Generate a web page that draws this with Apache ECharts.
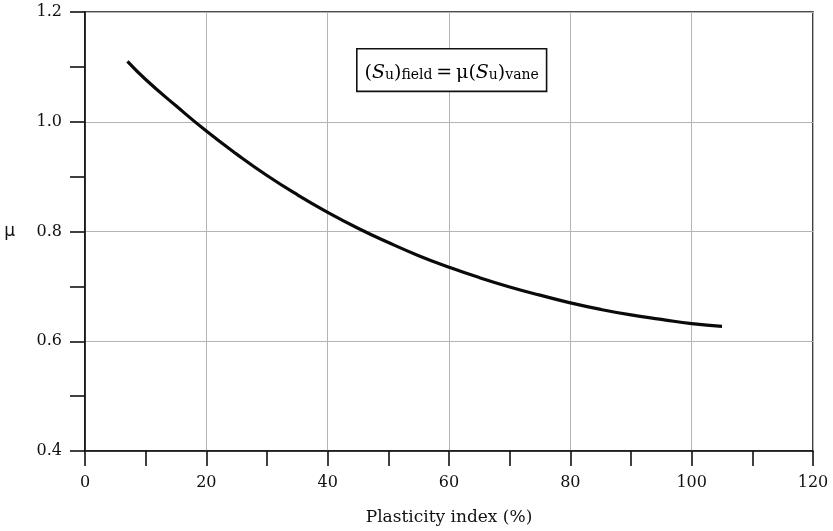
<!DOCTYPE html>
<html>
<head>
<meta charset="utf-8">
<script src="https://cdn.jsdelivr.net/npm/echarts@6/dist/echarts.min.js"></script>
<style>
  html, body { margin: 0; padding: 0; background: #fff; }
  #chart { width: 833px; height: 531px; }
</style>
</head>
<body>
<div id="chart"></div>
<script>
// Bjerrum-type correction factor for field vane shear strength
const plasticityIndex = [7, 10, 15, 20, 25, 30, 35, 40, 45, 50, 55, 60, 65, 70, 75, 80, 85, 90, 95, 100, 105];
const muValues = [1.110, 1.077, 1.029, 0.983, 0.941, 0.902, 0.867, 0.835, 0.806, 0.780, 0.756, 0.735, 0.716, 0.699, 0.684, 0.670, 0.658, 0.648, 0.640, 0.632, 0.627];

const xTicks = { min: 0, max: 120, interval: 20 };
const yTicks = { min: 0.4, max: 1.2, interval: 0.2 };

const xName = 'Plasticity index (%)';
const yName = 'μ';

const serif = '"DejaVu Serif", "Liberation Serif", serif';
const ink = '#111';

const chart = echarts.init(document.getElementById('chart'), null, { renderer: 'canvas' });

const axisCommon = {
  axisLine: { show: true, onZero: false, lineStyle: { color: ink, width: 1.6 } },
  axisTick: { show: true, inside: false, length: 15, lineStyle: { color: ink, width: 1.6 } },
  minorTick: { show: true, splitNumber: 2, length: 15, lineStyle: { color: ink, width: 1.6 } },
  splitLine: { show: true, lineStyle: { color: '#b4b4b4', width: 1 } },
  axisLabel: { color: ink, fontFamily: serif, fontSize: 16 }
};

chart.setOption({
  animation: false,
  backgroundColor: '#fff',
  grid: {
    left: 85, right: 20, top: 12, bottom: 80,
    show: true, borderColor: ink, borderWidth: 1.6, backgroundColor: 'transparent'
  },
  xAxis: Object.assign({}, axisCommon, {
    type: 'value',
    min: xTicks.min, max: xTicks.max, interval: xTicks.interval,
    name: xName,
    nameLocation: 'middle',
    nameGap: 58,
    nameTextStyle: { color: ink, fontFamily: serif, fontSize: 17 },
    axisLabel: Object.assign({}, axisCommon.axisLabel, { margin: 24 })
  }),
  yAxis: Object.assign({}, axisCommon, {
    type: 'value',
    min: yTicks.min, max: yTicks.max, interval: yTicks.interval,
    name: yName,
    nameLocation: 'middle',
    nameRotate: 0,
    nameGap: 70,
    nameTextStyle: { color: ink, fontFamily: '"DejaVu Sans", sans-serif', fontSize: 17 },
    axisLabel: Object.assign({}, axisCommon.axisLabel, {
      margin: 23,
      formatter: v => v.toFixed(1)
    })
  }),
  series: [{
    type: 'line',
    data: plasticityIndex.map((x, i) => [x, muValues[i]]),
    smooth: true,
    showSymbol: false,
    lineStyle: { color: '#0a0a0a', width: 3.2 },
    z: 5
  }],
  graphic: [{
    type: 'text',
    left: 356,
    top: 48,
    z: 10,
    style: {
      text: '{p|(}{it|S}{sub|u}{p|)}{sub|field}{p|\u2009=\u2009μ(}{it|S}{sub|u}{p|)}{sub|vane}',
      backgroundColor: '#fff',
      borderColor: ink,
      borderWidth: 1.6,
      padding: [8, 7, 8, 7],
      rich: {
        p: { fontFamily: serif, fontSize: 19, color: ink, lineHeight: 25, verticalAlign: 'bottom' },
        it: { fontFamily: serif, fontStyle: 'italic', fontSize: 19, color: ink, lineHeight: 25, verticalAlign: 'bottom' },
        sub: { fontFamily: serif, fontSize: 14, color: ink, lineHeight: 13, verticalAlign: 'bottom' }
      }
    }
  }]
});
</script>
</body>
</html>
